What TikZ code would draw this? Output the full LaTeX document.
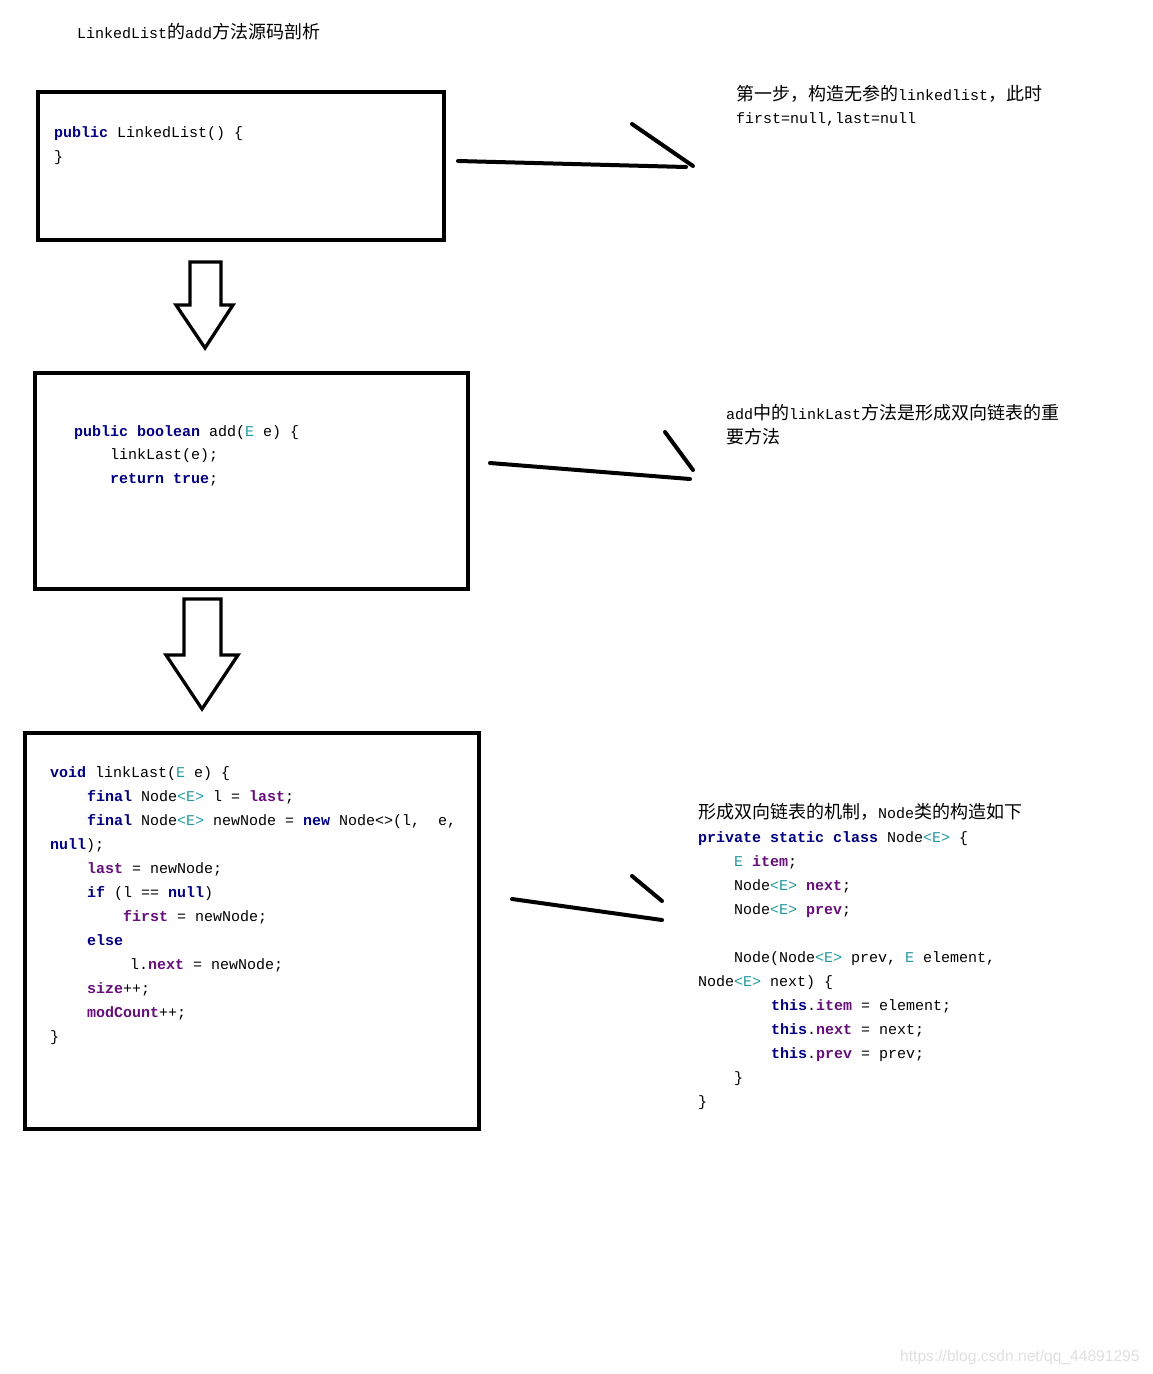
\documentclass[tikz,border=0pt]{standalone}
\usepackage{fontspec}
\usepackage{xcolor}
\newfontfamily\codeff{Liberation Mono}
\newfontfamily\cjkff{Noto Sans CJK SC}
\newfontfamily\wmff{Liberation Sans}
\definecolor{kwc}{HTML}{000080}
\definecolor{fdc}{HTML}{660E7A}
\definecolor{tyc}{HTML}{20999D}
\newcommand\KW[1]{{\bfseries\color{kwc}#1}}
\newcommand\FD[1]{{\bfseries\color{fdc}#1}}
\newcommand\TY[1]{{\color{tyc}#1}}
\newcommand\CJ[1]{{\cjkff\fontsize{18}{24}\selectfont #1}}
\newcommand\codesize{\codeff\fontsize{15}{24}\selectfont\frenchspacing}
\begin{document}
\begin{tikzpicture}[x=1pt,y=-1pt,
  box/.style={draw=black,line width=4pt,inner sep=0pt},
  txt/.style={anchor=base west,inner sep=0pt,font=\codesize,text=black},
  pen/.style={line width=4pt,line cap=round},
  blockarrow/.style={draw=black,line width=3.3pt,line join=miter,fill=white}]
\useasboundingbox (0,0) rectangle (1152,1374);
\fill[white] (0,0) rectangle (1152,1374);

% title
\node[txt] (title) at (77,38) {LinkedList\CJ{的}add\CJ{方法源码剖析}};

% boxes
\node[box,minimum width=406pt,minimum height=148pt] (b1) at (241,166) {};
\node[box,minimum width=433pt,minimum height=216pt] (b2) at (251.5,481) {};
\node[box,minimum width=454pt,minimum height=396pt] (b3) at (252,931) {};

% box 1 text
\node[txt] (b1l1) at (54,137) {\KW{public} LinkedList() \{};
\node[txt] (b1l2) at (54,161) {\}};

% box 2 text
\node[txt] (b2l1) at (74,436) {\KW{public boolean} add(\TY{E} e) \{};
\node[txt] (b2l2) at (110,459) {linkLast(e);};
\node[txt] (b2l3) at (110,483) {\KW{return true};};

% box 3 text
\node[txt] (b3l1) at (50,777) {\KW{void} linkLast(\TY{E} e) \{};
\node[txt] (b3l2) at (87,801) {\KW{final} Node\TY{<E>} l = \FD{last};};
\node[txt] (b3l3) at (87,825) {\KW{final} Node\TY{<E>} newNode = \KW{new} Node<>(l,\ \ e,};
\node[txt] (b3l4) at (50,849) {\KW{null});};
\node[txt] (b3l5) at (87,873) {\FD{last} = newNode;};
\node[txt] (b3l6) at (87,897) {\KW{if} (l == \KW{null})};
\node[txt] (b3l7) at (123,921) {\FD{first} = newNode;};
\node[txt] (b3l8) at (87,945) {\KW{else}};
\node[txt] (b3l9) at (130,969) {l.\FD{next} = newNode;};
\node[txt] (b3l10) at (87,993) {\FD{size}++;};
\node[txt] (b3l11) at (87,1017) {\FD{modCount}++;};
\node[txt] (b3l12) at (50,1041) {\}};

% note 1
\node[txt] (n1l1) at (736,100) {\CJ{第一步，构造无参的}linkedlist\CJ{，此时}};
\node[txt] (n1l2) at (736,123) {first=null,last=null};

% note 2
\node[txt] (n2l1) at (726,419) {add\CJ{中的}linkLast\CJ{方法是形成双向链表的重}};
\node[txt] (n2l2) at (726,443) {\CJ{要方法}};

% note 3
\node[txt] (n3l1) at (698,818) {\CJ{形成双向链表的机制，}Node\CJ{类的构造如下}};
\node[txt] (n3l2) at (698,842) {\KW{private static class} Node\TY{<E>} \{};
\node[txt] (n3l3) at (734,866) {\TY{E} \FD{item};};
\node[txt] (n3l4) at (734,890) {Node\TY{<E>} \FD{next};};
\node[txt] (n3l5) at (734,914) {Node\TY{<E>} \FD{prev};};
\node[txt] (n3l6) at (734,962) {Node(Node\TY{<E>} prev, \TY{E} element,};
\node[txt] (n3l7) at (698,986) {Node\TY{<E>} next) \{};
\node[txt] (n3l8) at (771,1010) {\KW{this}.\FD{item} = element;};
\node[txt] (n3l9) at (771,1034) {\KW{this}.\FD{next} = next;};
\node[txt] (n3l10) at (771,1058) {\KW{this}.\FD{prev} = prev;};
\node[txt] (n3l11) at (734,1082) {\}};
\node[txt] (n3l12) at (698,1106) {\}};

% watermark
\node[anchor=base west,inner sep=0pt,font=\wmff\fontsize{15.6}{20}\selectfont,text=black!12] (wm) at (900,1361) {https://blog.csdn.net/qq\_44891295};

% hand-drawn arrows
\coordinate (a1s) at (458,161);
\coordinate (a1e) at (686,167);
\coordinate (a1b) at (632,124);
\coordinate (a1t) at (693,166);
\draw[pen] (a1s) -- (a1e);
\draw[pen] (a1b) -- (a1t);

\coordinate (a2s) at (490,463);
\coordinate (a2e) at (690,479);
\coordinate (a2b) at (665,432);
\coordinate (a2t) at (693,470);
\draw[pen] (a2s) -- (a2e);
\draw[pen] (a2b) -- (a2t);

\coordinate (a3s) at (512,899);
\coordinate (a3e) at (662,920);
\coordinate (a3b) at (632,876);
\coordinate (a3t) at (662,901);
\draw[pen] (a3s) -- (a3e);
\draw[pen] (a3b) -- (a3t);

% block down arrows
\draw[blockarrow] (190,262) -- (221,262) -- (221,305) -- (233,305) -- (205,348) -- (176,305) -- (190,305) -- cycle;
\draw[blockarrow] (184,599) -- (221,599) -- (221,655) -- (238,655) -- (202,709) -- (166,655) -- (184,655) -- cycle;
\end{tikzpicture}
\end{document}
